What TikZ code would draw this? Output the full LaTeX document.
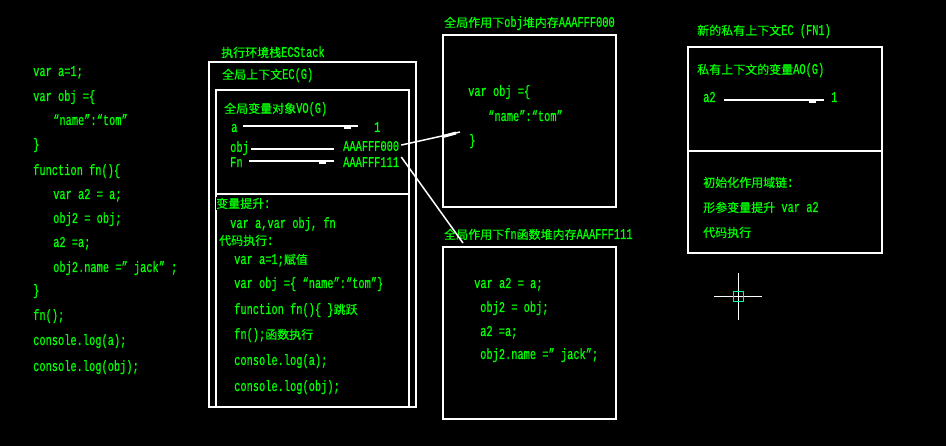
\documentclass[tikz,border=0pt]{standalone}
\usepackage{fontspec}
\setmainfont{Liberation Mono}[FakeStretch=0.69, FakeBold=0.6]
\newfontfamily\cjkfont{Noto Sans CJK SC}[FakeBold=0.4]
\newcommand\zh[1]{{\cjkfont\fontsize{12}{12}\selectfont #1}}
\definecolor{cadgreen}{RGB}{0,255,0}
\definecolor{cadcyan}{RGB}{0,255,170}
\begin{document}
\begin{tikzpicture}[x=1pt,y=-1pt,
  font=\fontsize{15}{16}\selectfont,
  txt/.style={anchor=base west, inner sep=0pt, text=cadgreen, yshift=-5pt},
  box/.style={draw=white, line width=2pt},
  varline/.style={draw=white, line width=1.8pt},
  link/.style={draw=white, line width=1.5pt}]
\fill[black] (0,0) rectangle (946,446);
\useasboundingbox (0,0) rectangle (946,446);

% ---------- left code ----------
\node[txt] (c1)  at (33,71)  {var a=1;};
\node[txt] (c2)  at (33,96)  {var obj =\{};
\node[txt] (c3)  at (53,120) {“name”:“tom”};
\node[txt] (c4)  at (33,144) {\}};
\node[txt] (c5)  at (33,170) {function fn()\{};
\node[txt] (c6)  at (53,194) {var a2 = a;};
\node[txt] (c7)  at (53,218) {obj2 = obj;};
\node[txt] (c8)  at (53,242) {a2 =a;};
\node[txt] (c9)  at (53,267) {obj2.name =” jack” ;};
\node[txt] (c10) at (33,290) {\}};
\node[txt] (c11) at (33,315) {fn();};
\node[txt] (c12) at (33,340) {console.log(a);};
\node[txt] (c13) at (33,366) {console.log(obj);};

% ---------- ECStack ----------
\node[txt] (ectitle) at (221,52) {\zh{执行环境栈}ECStack};
\draw[box] (209,62) rectangle (416,407);
\node[txt] (ecg) at (222,74) {\zh{全局上下文}EC(G)};
\draw[box] (216,90) rectangle (409,407);
\node[txt] (vog) at (224,108) {\zh{全局变量对象}VO(G)};
\node[txt] (va) at (231,127) {a};
\node[txt] (va1) at (374,127) {1};
\coordinate (la1) at (243,126); \coordinate (la2) at (358,126);
\draw[varline] (la1) -- (la2);
\fill[white] (344,126) rectangle (351,129);
\node[txt] (vobj) at (230,147) {obj};
\node[txt] (vobjv) at (343,146) {AAAFFF000};
\coordinate (lo1) at (251,149); \coordinate (lo2) at (334,149);
\draw[varline] (lo1) -- (lo2);
\node[txt] (vfn) at (230,162) {Fn};
\node[txt] (vfnv) at (343,162) {AAAFFF111};
\coordinate (lf1) at (249,161); \coordinate (lf2) at (334,161);
\draw[varline] (lf1) -- (lf2);
\fill[white] (319,161) rectangle (326,164);
\draw[box] (216,194) -- (409,194);
\node[txt, fill=black, inner ysep=1pt] (hoist) at (216,203) {\zh{变量提升}:};
\node[txt] (hoistv) at (230,223) {var a,var obj, fn};
\node[txt] (exec) at (219,240) {\zh{代码执行}:};
\node[txt] (e1) at (234,259) {var a=1;\zh{赋值}};
\node[txt] (e2) at (234,283) {var obj =\{ “name”:“tom”\}};
\node[txt] (e3) at (234,309) {function fn()\{ \}\zh{跳跃}};
\node[txt] (e4) at (234,334) {fn();\zh{函数执行}};
\node[txt] (e5) at (234,360) {console.log(a);};
\node[txt] (e6) at (234,386) {console.log(obj);};

% ---------- obj heap ----------
\node[txt] (objtitle) at (444,22) {\zh{全局作用下}obj\zh{堆内存}AAAFFF000};
\draw[box] (443,35) rectangle (616,207);
\node[txt] (o1) at (468,91) {var obj =\{};
\node[txt] (o2) at (488,116) {“name”:“tom”};
\node[txt] (o3) at (469,140) {\}};
\coordinate (objin) at (460,132);
\coordinate (objmid) at (443,136.5);

% ---------- fn heap ----------
\node[txt] (fntitle) at (444,234) {\zh{全局作用下}fn\zh{函数堆内存}AAAFFF111};
\draw[box] (443,247) rectangle (616,419);
\node[txt] (f1) at (474,283) {var a2 = a;};
\node[txt] (f2) at (480,307) {obj2 = obj;};
\node[txt] (f3) at (480,331) {a2 =a;};
\node[txt] (f4) at (480,354) {obj2.name =” jack”;};
\coordinate (fnin) at (463,243);

% ---------- links ----------
\draw[link] ([xshift=2pt,yshift=1pt]vobjv.east) -- (objin);
\draw[draw=white, line width=3pt] (objmid) -- (456,133);
\draw[link] ([xshift=2pt,yshift=5pt]vfnv.east) -- (fnin);

% ---------- FN1 ----------
\node[txt] (fn1title) at (697,30) {\zh{新的私有上下文}EC (FN1)};
\draw[box] (688,47) rectangle (882,253);
\draw[box] (688,151) -- (882,151);
\node[txt] (ao) at (697,69) {\zh{私有上下文的变量}AO(G)};
\node[txt] (a2) at (703,97) {a2};
\node[txt] (a21) at (831,97) {1};
\coordinate (l21) at (724,100); \coordinate (l22) at (824,100);
\draw[varline] (l21) -- (l22);
\fill[white] (809,100) rectangle (816,103);
\node[txt] (s1) at (703,182) {\zh{初始化作用域链}:};
\node[txt] (s2) at (703,207) {\zh{形参变量提升} var a2};
\node[txt] (s3) at (703,232) {\zh{代码执行}};

% ---------- cursor ----------
\coordinate (cur) at (738,297);
\draw[white, line width=1pt] (714,297) -- (762,297);
\draw[white, line width=1pt] (738,273) -- (738,320);
\draw[cadcyan, line width=1pt] (733,292) rectangle (743,302);
\end{tikzpicture}
\end{document}
